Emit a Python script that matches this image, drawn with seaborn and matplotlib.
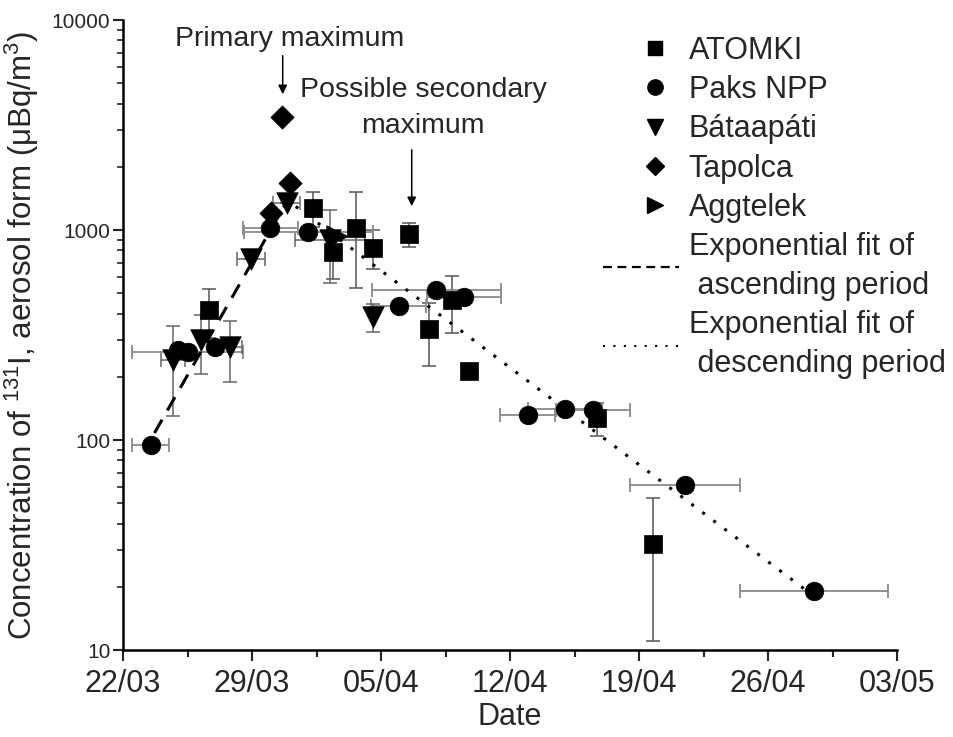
import matplotlib
matplotlib.use('Agg')
import numpy as np
import pandas as pd
import matplotlib.pyplot as plt
import matplotlib.dates as mdates
from matplotlib.lines import Line2D
from matplotlib.legend_handler import HandlerLine2D
from matplotlib.ticker import FixedLocator, LogLocator, NullFormatter, FuncFormatter
import seaborn as sns

# ATOMKI (squares): date, concentration, 1 sigma
atomki_dates = ['2011-03-26 16:00', '2011-04-01 08:00', '2011-04-02 09:00', '2011-04-03 16:00',
                '2011-04-04 13:00', '2011-04-06 13:00', '2011-04-07 14:00', '2011-04-08 21:00',
                '2011-04-09 18:00', '2011-04-16 17:00', '2011-04-19 18:00']
atomki_vals = [416, 1270, 785, 1020, 825, 955, 337, 465, 214, 127, 32]
atomki_yerr = [110, 240, 200, 490, 170, 125, 112, 140, 0, 23, 21]

# Paks NPP (circles): sampling period half width in days
paks_dates = ['2011-03-23 12:00', '2011-03-25 00:00', '2011-03-25 12:00', '2011-03-27 00:00',
              '2011-03-30 00:00', '2011-04-01 01:00', '2011-04-05 23:00', '2011-04-08 00:00',
              '2011-04-09 12:00', '2011-04-12 23:00', '2011-04-15 00:00', '2011-04-16 12:00',
              '2011-04-21 12:00', '2011-04-28 12:00']
paks_vals = [95, 268, 262, 278, 1020, 980, 434, 518, 481, 132, 140, 139, 61, 19]
paks_xerr = [1.0, 0, 3.0, 0, 1.5, 3.5, 1.5, 3.5, 2.0, 1.5, 2.0, 2.0, 3.0, 4.0]

# Bataapati (down triangles)
bata_dates = ['2011-03-24 17:00', '2011-03-26 05:00', '2011-03-27 19:00', '2011-03-28 23:00',
              '2011-03-30 21:00', '2011-04-02 05:00', '2011-04-04 13:00']
bata_vals = [240, 299, 278, 724, 1340, 900, 386]
bata_xerr = [0.65, 0, 0.65, 0.76, 0.72, 1.9, 0]
bata_yerr = [110, 93, 90, 0, 0, 340, 60]

# Tapolca (diamonds)
tapolca_dates = ['2011-03-30 01:00', '2011-03-30 15:00', '2011-03-31 02:00']
tapolca_vals = [1200, 3440, 1680]

# Aggtelek (right triangles)
aggtelek_dates = ['2011-04-02 15:00']
aggtelek_vals = [935]

# exponential fits (straight on log axis), end points
asc_fit_dates = ['2011-03-23 17:00', '2011-03-31 00:00']
asc_fit_vals = [108, 1420]
desc_fit_dates = ['2011-03-31 09:00', '2011-04-28 07:00']
desc_fit_vals = [1294, 18.6]

stations = ['ATOMKI', 'Paks NPP', 'Bátaapáti', 'Tapolca', 'Aggtelek']
markers = {'ATOMKI': 's', 'Paks NPP': 'o', 'Bátaapáti': 'v', 'Tapolca': 'D', 'Aggtelek': '>'}
sizes = {'ATOMKI': 160, 'Paks NPP': 180, 'Bátaapáti': 240, 'Tapolca': 140, 'Aggtelek': 240}

frames = []
for name, d, v in zip(stations,
                      [atomki_dates, paks_dates, bata_dates, tapolca_dates, aggtelek_dates],
                      [atomki_vals, paks_vals, bata_vals, tapolca_vals, aggtelek_vals]):
    frames.append(pd.DataFrame({'station': name, 'date': mdates.datestr2num(d), 'conc': v}))
df = pd.concat(frames, ignore_index=True)

sns.set_style('ticks')
plt.rcParams['font.family'] = ['Liberation Sans', 'DejaVu Sans']
plt.rcParams['mathtext.fontset'] = 'custom'
plt.rcParams['mathtext.rm'] = 'Liberation Sans'
plt.rcParams['mathtext.default'] = 'regular'


# legend symbols sit right of the handle centre, like the original
class ShiftedMarker(HandlerLine2D):
    def get_xdata(self, legend, xdescent, ydescent, width, height, fontsize):
        xd = np.array([0.36 * width - xdescent, width - xdescent])
        return xd, np.array([0.68 * width - xdescent])


fig = plt.figure(figsize=(9.54, 7.37), dpi=100)
ax = fig.add_axes([123 / 954, 87 / 737, 774 / 954, 630 / 737])

# error bars
ax.errorbar(mdates.datestr2num(atomki_dates), atomki_vals, yerr=atomki_yerr, fmt='none',
            ecolor='#555555', elinewidth=1.1, capsize=5, capthick=1.1, zorder=1)
ax.errorbar(mdates.datestr2num(paks_dates), paks_vals, xerr=paks_xerr, fmt='none',
            ecolor='#8a8a8a', elinewidth=1.3, capsize=5, capthick=1.3, zorder=1)
ax.errorbar(mdates.datestr2num(bata_dates), bata_vals, xerr=bata_xerr, yerr=bata_yerr, fmt='none',
            ecolor='#666666', elinewidth=1.1, capsize=5, capthick=1.1, zorder=1)

# fit lines
ax.plot(mdates.datestr2num(asc_fit_dates), asc_fit_vals, color='black', lw=2.2,
        linestyle=(0, (5, 3.5)), zorder=2)
ax.plot(mdates.datestr2num(desc_fit_dates), desc_fit_vals, color='black', lw=2.2,
        linestyle=(0, (1, 3.5)), zorder=2)

for name in stations:
    sub = df[df['station'] == name]
    sns.scatterplot(data=sub, x='date', y='conc', marker=markers[name], s=sizes[name],
                    color='black', edgecolor='black', linewidth=0.5, ax=ax, zorder=3, legend=False)

ax.set_yscale('log')
ax.set_ylim(10, 10000)
x0 = mdates.datestr2num('2011-03-22')
ax.set_xlim(x0, x0 + 42)
ax.xaxis.set_major_locator(FixedLocator(x0 + np.arange(0, 43, 7)))
ax.xaxis.set_minor_locator(FixedLocator(x0 + np.arange(3.5, 42, 7)))
ax.xaxis.set_major_formatter(mdates.DateFormatter('%d/%m'))
ax.yaxis.set_major_formatter(FuncFormatter(lambda v, p: f'{int(round(v))}'))
ax.yaxis.set_minor_locator(LogLocator(base=10, subs=np.arange(2, 10)))
ax.yaxis.set_minor_formatter(NullFormatter())

sns.despine(ax=ax)
for s in ['left', 'bottom']:
    ax.spines[s].set_linewidth(1.8)
    ax.spines[s].set_color('black')
ax.tick_params(axis='x', which='major', direction='out', length=8, width=1.5, labelsize=22, pad=6)
ax.tick_params(axis='x', which='minor', direction='out', length=5, width=1.5)
ax.tick_params(axis='y', which='major', direction='out', length=7, width=1.5, labelsize=15, pad=2)
ax.tick_params(axis='y', which='minor', direction='out', length=4, width=1.2)

ax.set_xlabel('Date', fontsize=22, labelpad=2)
ax.set_ylabel('Concentration of $^{131}$I, aerosol form (μBq/m$^{3}$)', fontsize=22.5, labelpad=8)

# annotations
ax.text(mdates.datestr2num('2011-03-31 01:00'), 8100, 'Primary maximum', fontsize=20.5,
        ha='center', va='center')
ax.annotate('', xy=(mdates.datestr2num('2011-03-30 16:00'), 4300),
            xytext=(mdates.datestr2num('2011-03-30 16:00'), 6970),
            arrowprops=dict(arrowstyle='-|>', color='black', lw=1.1, mutation_scale=13))
ax.text(mdates.datestr2num('2011-04-07 07:00'), 3810, 'Possible secondary\nmaximum', fontsize=20.5,
        ha='center', va='center', linespacing=1.5)
ax.annotate('', xy=(mdates.datestr2num('2011-04-06 16:00'), 1260),
            xytext=(mdates.datestr2num('2011-04-06 16:00'), 2485),
            arrowprops=dict(arrowstyle='-|>', color='black', lw=1.1, mutation_scale=13))

handles = [Line2D([], [], color='black', marker=markers['ATOMKI'], ms=10, lw=0),
           Line2D([], [], color='black', marker=markers['Paks NPP'], ms=11, lw=0),
           Line2D([], [], color='black', marker=markers['Bátaapáti'], ms=12, lw=0),
           Line2D([], [], color='black', marker=markers['Tapolca'], ms=9, lw=0),
           Line2D([], [], color='black', marker=markers['Aggtelek'], ms=12, lw=0),
           Line2D([], [], color='black', lw=1.6, linestyle=(0, (4, 2.5))),
           Line2D([], [], color='black', lw=1.5, linestyle=(0, (1, 4)))]
labels = stations + ['Exponential fit of\n ascending period', 'Exponential fit of\n descending period']
hmap = {h: ShiftedMarker() for h in handles[:5]}
leg = ax.legend(handles, labels, loc='upper left', bbox_to_anchor=(603 / 954, 1 - 36 / 737),
                bbox_transform=fig.transFigure, frameon=False, fontsize=22, borderpad=0,
                borderaxespad=0, handlelength=2.5, handletextpad=0.3, labelspacing=0.3,
                handler_map=hmap)
for t in leg.get_texts():
    t.set_linespacing(1.4)

fig.savefig('out.png', dpi=100)
